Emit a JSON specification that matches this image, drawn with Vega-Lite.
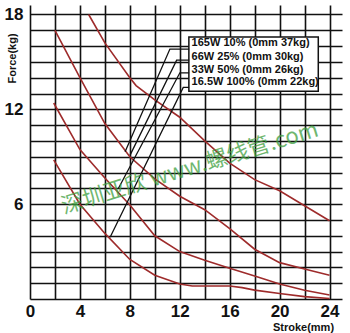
{
  "$schema": "https://vega.github.io/schema/vega-lite/v6.json",
  "autosize": {"type": "none"},
  "padding": {"left": 30, "top": 5, "right": 8, "bottom": 34},
  "width": 312,
  "height": 294,
  "background": "white",
  "view": {"stroke": null},
  "config": {
    "font": "Liberation Sans",
    "axis": {"gridColor": "#111111", "gridWidth": 1.6, "gridOpacity": 1, "domain": false, "ticks": false, "labelColor": "#111", "titleColor": "#111"}
  },
  "datasets": {
    "curves": [
      {"s": "165W", "x": 4.7, "y": 18.0}, {"s": "165W", "x": 6, "y": 16.2}, {"s": "165W", "x": 8, "y": 14.0}, {"s": "165W", "x": 8.5, "y": 13.5}, {"s": "165W", "x": 10, "y": 12.6}, {"s": "165W", "x": 12, "y": 11.5}, {"s": "165W", "x": 14, "y": 10.0}, {"s": "165W", "x": 16, "y": 8.6}, {"s": "165W", "x": 18, "y": 7.55}, {"s": "165W", "x": 20, "y": 6.85}, {"s": "165W", "x": 22, "y": 5.9}, {"s": "165W", "x": 24, "y": 4.95},
      {"s": "66W", "x": 2.0, "y": 17.0}, {"s": "66W", "x": 4, "y": 14.0}, {"s": "66W", "x": 6, "y": 11.1}, {"s": "66W", "x": 8, "y": 9.0}, {"s": "66W", "x": 10, "y": 7.6}, {"s": "66W", "x": 12, "y": 6.5}, {"s": "66W", "x": 14, "y": 5.65}, {"s": "66W", "x": 16, "y": 4.45}, {"s": "66W", "x": 18, "y": 3.15}, {"s": "66W", "x": 20, "y": 2.3}, {"s": "66W", "x": 22, "y": 1.9}, {"s": "66W", "x": 24, "y": 1.5},
      {"s": "33W", "x": 1.9, "y": 12.4}, {"s": "33W", "x": 4, "y": 9.45}, {"s": "33W", "x": 6, "y": 7.65}, {"s": "33W", "x": 8, "y": 5.95}, {"s": "33W", "x": 10, "y": 4.0}, {"s": "33W", "x": 12, "y": 3.0}, {"s": "33W", "x": 14, "y": 2.45}, {"s": "33W", "x": 16, "y": 1.95}, {"s": "33W", "x": 18, "y": 1.45}, {"s": "33W", "x": 20, "y": 0.95}, {"s": "33W", "x": 22, "y": 0.55}, {"s": "33W", "x": 24, "y": 0.25},
      {"s": "16.5W", "x": 1.9, "y": 8.8}, {"s": "16.5W", "x": 4, "y": 6.0}, {"s": "16.5W", "x": 6, "y": 4.15}, {"s": "16.5W", "x": 8, "y": 2.5}, {"s": "16.5W", "x": 10, "y": 1.5}, {"s": "16.5W", "x": 12, "y": 0.95}, {"s": "16.5W", "x": 13, "y": 0.82}, {"s": "16.5W", "x": 16, "y": 0.82}, {"s": "16.5W", "x": 17, "y": 0.72}, {"s": "16.5W", "x": 18, "y": 0.56}, {"s": "16.5W", "x": 20, "y": 0.35}, {"s": "16.5W", "x": 22, "y": 0.15}, {"s": "16.5W", "x": 24, "y": 0.03}
    ],
    "leaders": [
      {"l": 1, "o": 1, "x": 12.75, "y": 15.81}, {"l": 1, "o": 2, "x": 11.21, "y": 15.81}, {"l": 1, "o": 3, "x": 7.62, "y": 9.31},
      {"l": 2, "o": 1, "x": 12.75, "y": 15.11}, {"l": 2, "o": 2, "x": 11.75, "y": 15.11}, {"l": 2, "o": 3, "x": 8.02, "y": 9.1},
      {"l": 3, "o": 1, "x": 12.75, "y": 14.31}, {"l": 3, "o": 2, "x": 12.01, "y": 14.31}, {"l": 3, "o": 3, "x": 7.08, "y": 6.99},
      {"l": 4, "o": 1, "x": 12.75, "y": 13.39}, {"l": 4, "o": 2, "x": 12.28, "y": 13.39}, {"l": 4, "o": 3, "x": 6.42, "y": 3.91}
    ],
    "box": [{"x": 12.73, "x2": 23.1, "y": 13.15, "y2": 16.57}],
    "legend": [
      {"x": 12.95, "y": 16.17, "t": "165W 10% (0mm 37kg)"},
      {"x": 12.95, "y": 15.28, "t": "66W 25% (0mm 30kg)"},
      {"x": 12.95, "y": 14.48, "t": "33W 50% (0mm 26kg)"},
      {"x": 12.95, "y": 13.74, "t": "16.5W 100% (0mm 22kg)"}
    ],
    "mark": [{"x": 12.8, "y": 8.28, "t": "深圳亚欣 www.螺线管.com"}]
  },
  "encoding": {
    "x": {"field": "x", "type": "quantitative", "scale": {"domain": [0, 25], "nice": false, "zero": false},
      "axis": {"values": [0, 2, 4, 6, 8, 10, 12, 14, 16, 18, 20, 22, 24], "labelExpr": "datum.value % 4 == 0 ? datum.label : ''",
        "labelFont": "Liberation Sans", "labelFontSize": 17, "labelFontWeight": "bold", "labelPadding": 4, "labelFlush": false, "labelOverlap": false,
        "title": "Stroke(mm)", "titleFontSize": 11, "titleFontWeight": "bold", "titleAlign": "center", "titleBaseline": "middle", "titleX": 273, "titleY": 28}},
    "y": {"field": "y", "type": "quantitative", "scale": {"domain": [0, 18.6], "nice": false, "zero": false},
      "axis": {"values": [0, 1, 2, 3, 4, 5, 6, 7, 8, 9, 10, 11, 12, 13, 14, 15, 16, 17, 18], "labelExpr": "datum.value % 6 == 0 && datum.value > 0 ? datum.label : ''",
        "labelFont": "Liberation Sans", "labelFontSize": 17, "labelFontWeight": "bold", "labelPadding": 7, "labelOverlap": false,
        "title": "Force(kg)", "titleFontSize": 11, "titleFontWeight": "bold", "titleAngle": 270, "titleAlign": "center", "titleBaseline": "middle", "titleX": -18, "titleY": 53}}
  },
  "layer": [
    {
      "data": {"name": "curves"},
      "mark": {"type": "line", "color": "#9e2b2b", "strokeWidth": 1.6},
      "encoding": {"detail": {"field": "s"}}
    },
    {
      "data": {"name": "box"},
      "mark": {"type": "rect", "fill": "white", "stroke": "#111", "strokeWidth": 1.5},
      "encoding": {"x2": {"field": "x2"}, "y2": {"field": "y2"}}
    },
    {
      "data": {"name": "leaders"},
      "mark": {"type": "line", "color": "#111", "strokeWidth": 1.3},
      "encoding": {"detail": {"field": "l"}, "order": {"field": "o"}}
    },
    {
      "data": {"name": "legend"},
      "mark": {"type": "text", "align": "left", "baseline": "middle", "font": "Liberation Sans", "fontSize": 11, "fontWeight": "bold", "color": "#111"},
      "encoding": {"text": {"field": "t"}}
    },
    {
      "data": {"name": "mark"},
      "mark": {"type": "text", "align": "center", "baseline": "middle", "font": "Noto Sans CJK SC", "fontSize": 22, "angle": 343, "color": "#3f9f3f", "opacity": 0.75},
      "encoding": {"text": {"field": "t"}}
    }
  ]
}
